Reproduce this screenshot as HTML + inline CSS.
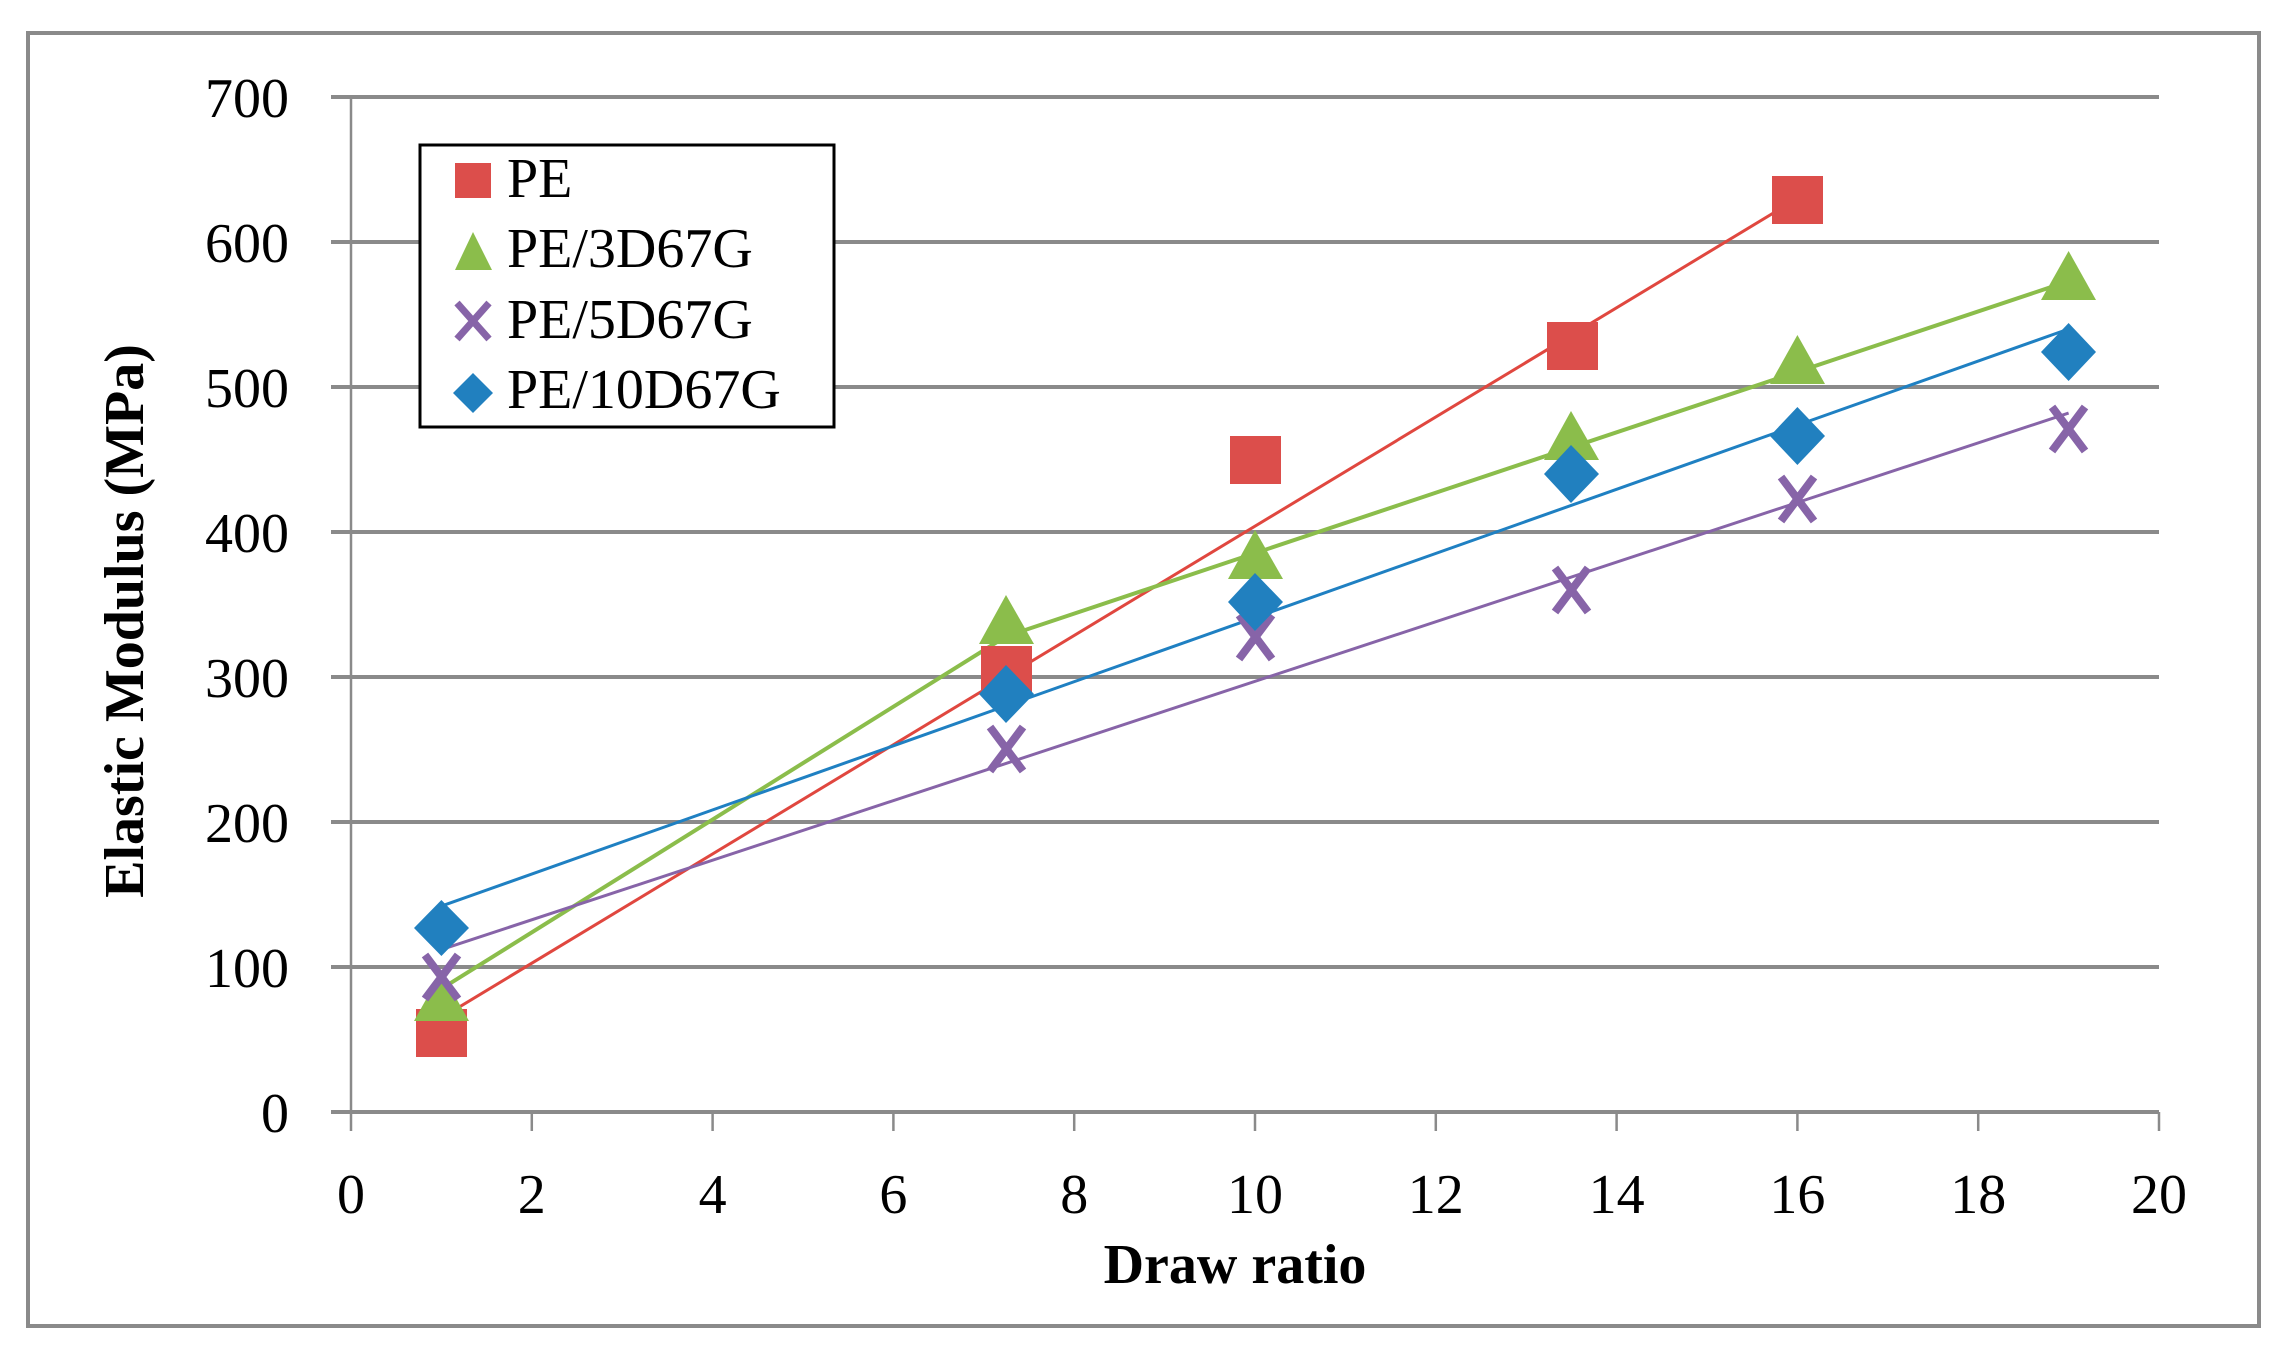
<!DOCTYPE html>
<html><head><meta charset="utf-8"><style>
html,body{margin:0;padding:0;background:#fff;}
svg{display:block;}
text{font-family:"Liberation Serif",serif;fill:#000;}
</style></head><body>
<svg width="2285" height="1351" viewBox="0 0 2285 1351" xmlns="http://www.w3.org/2000/svg">
<rect x="28" y="33" width="2231" height="1293" fill="#fff" stroke="#8a8a8a" stroke-width="4"/>
<g stroke="#8a8a8a" stroke-width="4">
<line x1="331" y1="97" x2="2159" y2="97"/>
<line x1="331" y1="242" x2="2159" y2="242"/>
<line x1="331" y1="387" x2="2159" y2="387"/>
<line x1="331" y1="532" x2="2159" y2="532"/>
<line x1="331" y1="677" x2="2159" y2="677"/>
<line x1="331" y1="822" x2="2159" y2="822"/>
<line x1="331" y1="967" x2="2159" y2="967"/>
<line x1="331" y1="1112" x2="2159" y2="1112"/>
</g>
<g stroke="#8a8a8a" stroke-width="2.5">
<line x1="351" y1="97" x2="351" y2="1131"/>
<line x1="531.8" y1="1112" x2="531.8" y2="1131"/>
<line x1="712.6" y1="1112" x2="712.6" y2="1131"/>
<line x1="893.4" y1="1112" x2="893.4" y2="1131"/>
<line x1="1074.2" y1="1112" x2="1074.2" y2="1131"/>
<line x1="1255" y1="1112" x2="1255" y2="1131"/>
<line x1="1435.8" y1="1112" x2="1435.8" y2="1131"/>
<line x1="1616.6" y1="1112" x2="1616.6" y2="1131"/>
<line x1="1797.4" y1="1112" x2="1797.4" y2="1131"/>
<line x1="1978.2" y1="1112" x2="1978.2" y2="1131"/>
<line x1="2159" y1="1112" x2="2159" y2="1131"/>
</g>
<g font-size="56" text-anchor="end">
<text x="289" y="117">700</text>
<text x="289" y="262">600</text>
<text x="289" y="407">500</text>
<text x="289" y="552">400</text>
<text x="289" y="697">300</text>
<text x="289" y="842">200</text>
<text x="289" y="987">100</text>
<text x="289" y="1132">0</text>
</g>
<g font-size="56" text-anchor="middle">
<text x="351" y="1213">0</text>
<text x="531.8" y="1213">2</text>
<text x="712.6" y="1213">4</text>
<text x="893.4" y="1213">6</text>
<text x="1074.2" y="1213">8</text>
<text x="1255" y="1213">10</text>
<text x="1435.8" y="1213">12</text>
<text x="1616.6" y="1213">14</text>
<text x="1797.4" y="1213">16</text>
<text x="1978.2" y="1213">18</text>
<text x="2159" y="1213">20</text>
</g>
<text x="1235" y="1283" font-size="56" font-weight="bold" text-anchor="middle">Draw ratio</text>
<text transform="translate(143,621) rotate(-90)" font-size="56" font-weight="bold" text-anchor="middle">Elastic Modulus (MPa)</text>
<g fill="none" stroke-width="3">
<polyline stroke="#e0473f" points="441.4,1017.8 1797.4,198.5"/>
<polyline stroke="#8bbd4b" stroke-width="4" points="441.4,988.8 1006,636.4 2068.6,281.2"/>
<polyline stroke="#8764a8" points="441.4,949.6 2068.6,413.1"/>
<polyline stroke="#1f80c2" points="441.4,906.1 2068.6,329"/>
</g>
<g fill="#dc4e4b">
<rect x="416" y="1009" width="51" height="48"/>
<rect x="981" y="646" width="51" height="48"/>
<rect x="1230" y="436" width="51" height="48"/>
<rect x="1547" y="322" width="51" height="48"/>
<rect x="1772" y="176" width="51" height="48"/>
</g>
<g fill="#8bbd4b">
<polygon points="441.4,972 414,1021 469,1021"/>
<polygon points="1006,595 979,644 1034,644"/>
<polygon points="1255,530 1228,579 1283,579"/>
<polygon points="1571,411 1544,460 1599,460"/>
<polygon points="1797.4,335 1770,384 1825,384"/>
<polygon points="2068.6,251 2041,300 2096,300"/>
</g>
<g stroke="#8764a8" stroke-width="8">
<path d="M425,955 L458,999 M458,955 L425,999"/>
<path d="M990,727 L1023,771 M1023,727 L990,771"/>
<path d="M1239,615 L1272,659 M1272,615 L1239,659"/>
<path d="M1555,568 L1588,612 M1588,568 L1555,612"/>
<path d="M1781,477 L1814,521 M1814,477 L1781,521"/>
<path d="M2052,407 L2085,451 M2085,407 L2052,451"/>
</g>
<g fill="#2180bf">
<polygon points="441.4,900 469,928 441.4,956 414,928"/>
<polygon points="1006,665 1034,694 1006,723 979,694"/>
<polygon points="1255,573 1283,602 1255,631 1228,602"/>
<polygon points="1571,445 1599,474 1571,503 1544,474"/>
<polygon points="1797.4,407 1825,436 1797.4,465 1770,436"/>
<polygon points="2068.6,323 2096,352 2068.6,381 2041,352"/>
</g>
<rect x="420" y="145" width="414" height="282" fill="#fff" stroke="#000" stroke-width="3"/>
<rect x="455" y="163" width="36" height="35" fill="#dc4e4b"/>
<polygon points="473,232 455,270 492,270" fill="#8bbd4b"/>
<path d="M457,303 L489,339 M489,303 L457,339" stroke="#8764a8" stroke-width="7"/>
<polygon points="473,373 493,393 473,413 453,393" fill="#2180bf"/>
<g font-size="56">
<text x="507" y="197">PE</text>
<text x="507" y="267">PE/3D67G</text>
<text x="507" y="338">PE/5D67G</text>
<text x="507" y="408">PE/10D67G</text>
</g>
</svg>
</body></html>
